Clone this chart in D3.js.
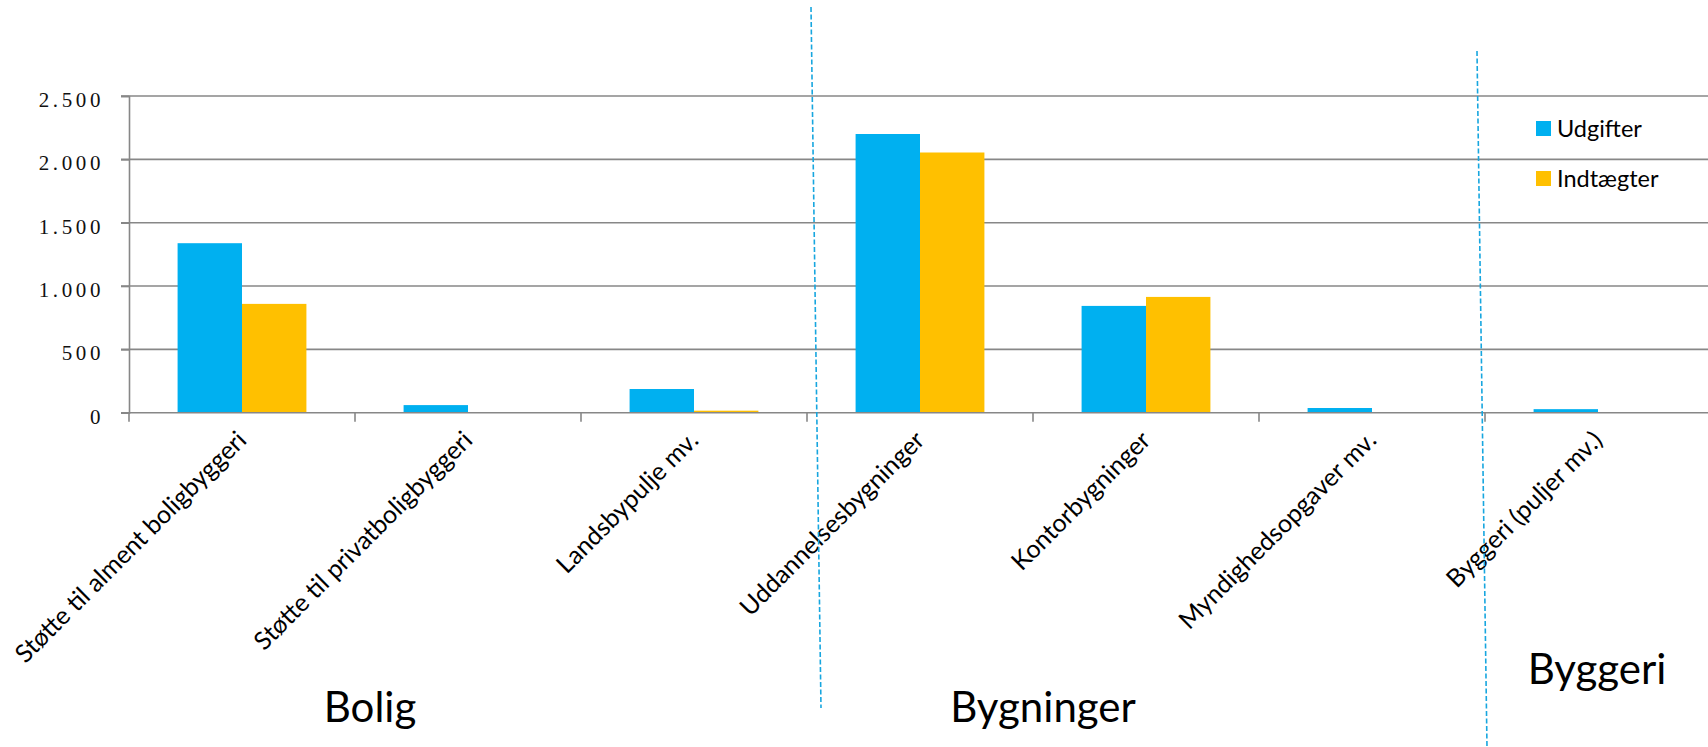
<!DOCTYPE html>
<html>
<head>
<meta charset="utf-8">
<script src="https://cdn.jsdelivr.net/npm/d3@7"></script>
<style>
  body { margin: 0; background: #fff; }
  svg { display: block; }
</style>
</head>
<body>
<svg id="root"></svg>
<script>
// data
const categories = [
  "Støtte til alment boligbyggeri",
  "Støtte til privatboligbyggeri",
  "Landsbypulje mv.",
  "Uddannelsesbygninger",
  "Kontorbygninger",
  "Myndighedsopgaver mv.",
  "Byggeri (puljer mv.)",
];
const seriesNames = ["Udgifter", "Indtægter"];
const udgifter = [1338, 60, 187, 2200, 843, 37, 28];
const indtaegter = [859, 0, 16, 2054, 914, 0, 0];
const yTicks = [0, 500, 1000, 1500, 2000, 2500];
const groupNames = ["Bolig", "Bygninger", "Byggeri"];

const colors = { Udgifter: "#00B0F0", "Indtægter": "#FFC000" };

const width = 1708;
const height = 747;
const plot = { left: 129, right: 1711, top: 96, bottom: 412.7 };

const svg = d3.select("#root").attr("width", width).attr("height", height);

const x = d3.scaleBand()
  .domain(categories)
  .range([plot.left, plot.right])
  .paddingInner(0.43)
  .paddingOuter(0.215);

const xSub = d3.scaleBand()
  .domain(seriesNames)
  .range([0, x.bandwidth()]);

const y = d3.scaleLinear()
  .domain([0, 2500])
  .range([plot.bottom, plot.top]);

const rows = categories.map((c, i) => ({
  category: c,
  values: [
    { series: "Udgifter", value: udgifter[i] },
    { series: "Indtægter", value: indtaegter[i] },
  ],
}));

// gridlines
svg.append("g")
  .selectAll("line")
  .data(yTicks.filter((d) => d > 0))
  .enter()
  .append("line")
  .attr("x1", plot.left - 8)
  .attr("x2", width)
  .attr("y1", (d) => y(d))
  .attr("y2", (d) => y(d))
  .attr("stroke", "#878787")
  .attr("stroke-width", 1.6);

// bars
svg.append("g")
  .selectAll("g")
  .data(rows)
  .enter()
  .append("g")
  .attr("transform", (d) => `translate(${x(d.category)},0)`)
  .selectAll("rect")
  .data((d) => d.values.filter((v) => v.value > 0))
  .enter()
  .append("rect")
  .attr("x", (d) => xSub(d.series))
  .attr("width", xSub.bandwidth())
  .attr("y", (d) => y(d.value))
  .attr("height", (d) => y(0) - y(d.value))
  .attr("fill", (d) => colors[d.series]);

// y axis
const yAxis = svg.append("g")
  .attr("transform", `translate(${plot.left},0)`)
  .call(d3.axisLeft(y).tickValues(yTicks).tickSize(8).tickPadding(17)
    .tickFormat((d) => d3.format(",")(d).replace(",", ".")));
yAxis.select(".domain").attr("stroke", "#878787").attr("stroke-width", 1.6);
yAxis.selectAll(".tick line").attr("stroke", "#878787").attr("stroke-width", 1.6);
yAxis.selectAll(".tick text")
  .attr("dy", "0.5em")
  .style("font-family", "'Liberation Serif', serif")
  .style("font-size", "21px")
  .style("letter-spacing", "3.6px")
  .attr("fill", "#111");

// x axis
const xTickPos = d3.range(categories.length + 1).map((i) => plot.left + i * x.step());
svg.append("line")
  .attr("x1", plot.left - 8)
  .attr("x2", width)
  .attr("y1", y(0))
  .attr("y2", y(0))
  .attr("stroke", "#878787")
  .attr("stroke-width", 1.6);
svg.append("g")
  .selectAll("line")
  .data(xTickPos)
  .enter()
  .append("line")
  .attr("x1", (d) => d)
  .attr("x2", (d) => d)
  .attr("y1", y(0))
  .attr("y2", y(0) + 9)
  .attr("stroke", "#878787")
  .attr("stroke-width", 1.6);

// category labels, rotated
svg.append("g")
  .selectAll("text")
  .data(categories)
  .enter()
  .append("text")
  .attr("transform", (d) => `translate(${x(d) + x.bandwidth() / 2 + 6},${y(0) + 29}) rotate(-45)`)
  .attr("text-anchor", "end")
  .style("font-family", "Lato, sans-serif")
  .style("font-size", "25px")
  .attr("fill", "#000")
  .text((d) => d);

// legend
const legend = svg.append("g")
  .selectAll("g")
  .data(seriesNames)
  .enter()
  .append("g")
  .attr("transform", (d, i) => `translate(1536,${121 + i * 50})`);
legend.append("rect")
  .attr("width", 15)
  .attr("height", 15)
  .attr("fill", (d) => colors[d]);
legend.append("text")
  .attr("x", 21)
  .attr("y", 15.5)
  .style("font-family", "Lato, sans-serif")
  .style("font-size", "23.5px")
  .attr("fill", "#000")
  .text((d) => d);

// dashed separators between groups
const separators = [
  { x1: 811, y1: 7, x2: 821, y2: 708 },
  { x1: 1477, y1: 51, x2: 1487, y2: 747 },
];
svg.append("g")
  .selectAll("line")
  .data(separators)
  .enter()
  .append("line")
  .attr("x1", (d) => d.x1)
  .attr("y1", (d) => d.y1)
  .attr("x2", (d) => d.x2)
  .attr("y2", (d) => d.y2)
  .attr("stroke", "#17A6DF")
  .attr("stroke-width", 1.6)
  .attr("stroke-dasharray", "5,2.5");

// group labels under the axis
const groupPos = [
  { x: 370, y: 722 },
  { x: 1043, y: 722 },
  { x: 1597, y: 684 },
];
svg.append("g")
  .selectAll("text")
  .data(groupNames)
  .enter()
  .append("text")
  .attr("x", (d, i) => groupPos[i].x)
  .attr("y", (d, i) => groupPos[i].y)
  .attr("text-anchor", "middle")
  .style("font-family", "Lato, sans-serif")
  .style("font-size", "42px")
  .attr("fill", "#000")
  .text((d) => d);
</script>
</body>
</html>
